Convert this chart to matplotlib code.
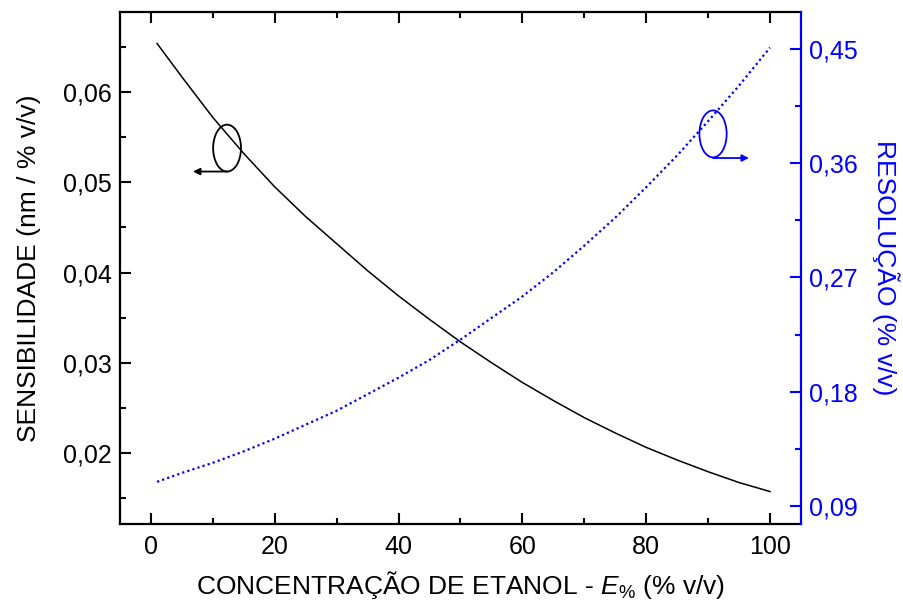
import numpy as np
import matplotlib
matplotlib.use("Agg")
import matplotlib.pyplot as plt
from matplotlib.patches import Ellipse

# dados
conc = [1, 5, 10, 15, 20, 25, 30, 35, 40, 45, 50, 55, 60, 65, 70, 75, 80, 85, 90, 95, 100]
sensibilidade = [0.0654, 0.0617, 0.0572, 0.0532, 0.0495, 0.0462, 0.0432, 0.0402, 0.0374, 0.0348,
                 0.0323, 0.0300, 0.0278, 0.0258, 0.0239, 0.0222, 0.0206, 0.0192, 0.0179, 0.0167, 0.0157]
resolucao = [0.109, 0.116, 0.124, 0.133, 0.143, 0.154, 0.165, 0.178, 0.191, 0.205,
             0.221, 0.238, 0.255, 0.274, 0.295, 0.317, 0.341, 0.366, 0.393, 0.421, 0.451]

x_ticks = [0, 20, 40, 60, 80, 100]
left_ticks = [0.02, 0.03, 0.04, 0.05, 0.06]
left_labels = ["0,02", "0,03", "0,04", "0,05", "0,06"]
right_ticks = [0.09, 0.18, 0.27, 0.36, 0.45]
right_labels = ["0,09", "0,18", "0,27", "0,36", "0,45"]

plt.rcParams["font.family"] = ["Liberation Sans", "DejaVu Sans"]
plt.rcParams["mathtext.fontset"] = "custom"
plt.rcParams["mathtext.rm"] = "Liberation Sans"
plt.rcParams["mathtext.it"] = "Liberation Sans:italic"

fig = plt.figure(figsize=(9.04, 6.12), dpi=100)
ax = fig.add_axes([0.1327, 0.1438, 0.7533, 0.8366])
ax2 = ax.twinx()

ax.plot(conc, sensibilidade, color="black", linewidth=1.1)
ax2.plot(conc, resolucao, color="blue", linewidth=1.6, linestyle=(0, (1, 1.4)))

ax.set_xlim(-5, 105)
ax.set_ylim(0.0121, 0.0689)
ax2.set_ylim(0.0758, 0.479)

ax.set_xticks(x_ticks)
ax.set_xticks(np.arange(10, 100, 20), minor=True)
ax.set_yticks(left_ticks)
ax.set_yticklabels(left_labels)
ax.set_yticks(np.arange(0.015, 0.07, 0.01), minor=True)
ax2.set_yticks(right_ticks)
ax2.set_yticklabels(right_labels)
ax2.set_yticks(np.arange(0.135, 0.46, 0.09), minor=True)

# ticks para dentro
ax.tick_params(which="both", direction="in", top=True, right=False, width=1.5,
               labelsize=18, colors="black")
ax.tick_params(which="major", length=8)
ax.tick_params(which="minor", length=4.5)
ax.tick_params(axis="x", pad=8)
ax.tick_params(axis="y", pad=6)
ax2.tick_params(which="both", direction="in", width=1.5, labelsize=18,
                colors="blue", pad=6)
ax2.tick_params(which="major", length=8)
ax2.tick_params(which="minor", length=4.5)

for s in ["left", "bottom", "top"]:
    ax.spines[s].set_linewidth(1.6)
for s in ["left", "bottom", "top"]:
    ax2.spines[s].set_visible(False)
ax.spines["right"].set_visible(False)
ax2.spines["right"].set_color("blue")
ax2.spines["right"].set_linewidth(1.6)

ax.set_xlabel(r"CONCENTRAÇÃO DE ETANOL - $\mathit{E}_{\%}$ (% v/v)", fontsize=19, labelpad=7)
ax.set_ylabel("SENSIBILIDADE (nm / % v/v)", fontsize=19, labelpad=16)
ax2.set_ylabel("RESOLUÇÃO (% v/v)", fontsize=19, color="blue", rotation=-90, labelpad=30)

# elipses indicando o eixo de cada curva
ax.add_patch(Ellipse((12.3, 0.0538), 4.5, 0.0052, fill=False, edgecolor="black", linewidth=1.3))
ax.annotate("", xy=(6.8, 0.0512), xytext=(12.3, 0.0512),
            arrowprops=dict(arrowstyle="-|>", color="black", lw=1.3, mutation_scale=10,
                            shrinkA=0, shrinkB=0))
ax2.add_patch(Ellipse((90.8, 0.383), 4.4, 0.037, fill=False, edgecolor="blue", linewidth=1.3))
ax2.annotate("", xy=(96.6, 0.364), xytext=(90.8, 0.364),
             arrowprops=dict(arrowstyle="-|>", color="blue", lw=1.3, mutation_scale=10,
                             shrinkA=0, shrinkB=0))

fig.savefig("out.png", dpi=100)
